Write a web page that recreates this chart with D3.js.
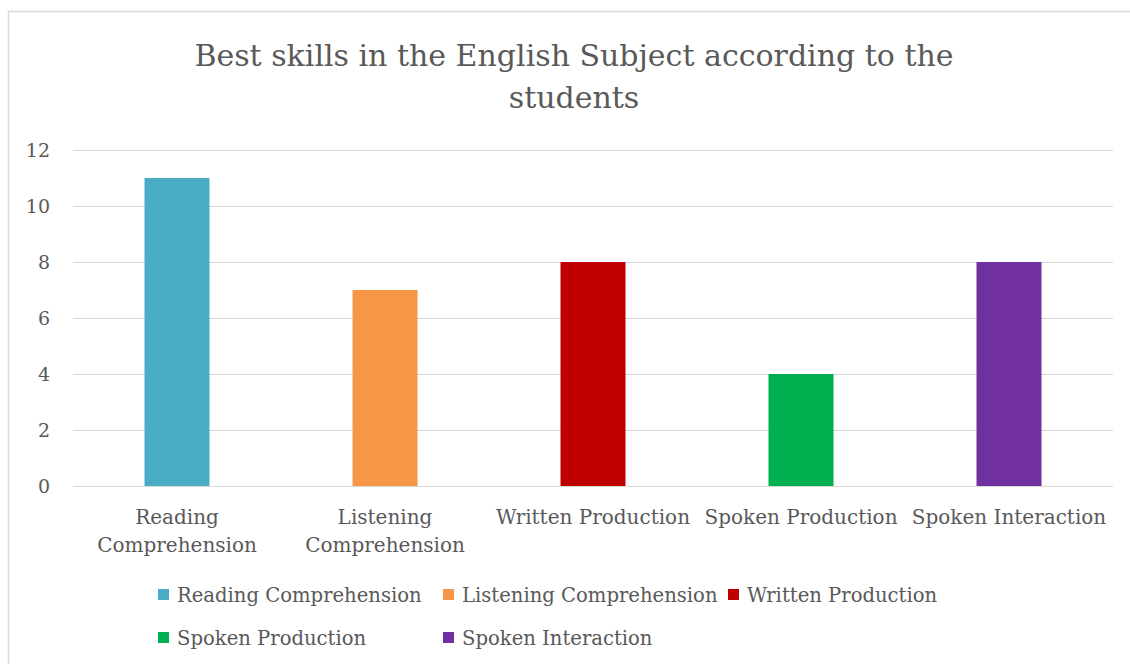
<!DOCTYPE html>
<html>
<head>
<meta charset="utf-8">
<script src="https://cdn.jsdelivr.net/npm/d3@7"></script>
<style>
  body { margin: 0; background: #fff; }
  svg text { font-family: "DejaVu Serif", serif; fill: #595959; }
</style>
</head>
<body>
<div id="chart"></div>
<script>
// data
const categories = ["Reading Comprehension", "Listening Comprehension", "Written Production", "Spoken Production", "Spoken Interaction"];
const values = [11, 7, 8, 4, 8];
const colors = ["#4BACC6", "#F79646", "#C00000", "#00B050", "#7030A0"];
const yTicks = [0, 2, 4, 6, 8, 10, 12];
const titleLines = ["Best skills in the English Subject according to the", "students"];

const width = 1130, height = 664;
const plot = {left: 73, right: 1113, top: 150, bottom: 486};

let svg = d3.select("#chart").append("svg")
    .attr("width", width)
    .attr("height", height);

svg.append("rect")
    .attr("width", width).attr("height", height)
    .attr("fill", "#fff");

// chart frame (runs off the right and bottom edge)
svg.append("rect")
    .attr("x", 8.5).attr("y", 11.5)
    .attr("width", 1140).attr("height", 670)
    .attr("fill", "none")
    .attr("stroke", "#d9d9d9")
    .attr("stroke-width", 1.5);

// title
svg.append("g").selectAll("text")
    .data(titleLines)
    .enter().append("text")
    .attr("x", 574)
    .attr("y", (d, i) => 66 + i * 42)
    .attr("text-anchor", "middle")
    .style("font-size", "30px")
    .text(d => d);

let yScale = d3.scaleLinear()
    .domain([0, 12])
    .range([plot.bottom, plot.top]);

let xScale = d3.scaleBand()
    .domain(categories)
    .range([plot.left, plot.right])
    .paddingInner(0.6875)
    .paddingOuter(0.34375);

// gridlines
svg.append("g").selectAll("line")
    .data(yTicks)
    .enter().append("line")
    .attr("x1", plot.left).attr("x2", plot.right)
    .attr("y1", d => Math.round(yScale(d)) + 0.5)
    .attr("y2", d => Math.round(yScale(d)) + 0.5)
    .attr("stroke", "#d9d9d9")
    .attr("stroke-width", 1.2);

// y labels
svg.append("g").selectAll("text")
    .data(yTicks)
    .enter().append("text")
    .attr("x", 50)
    .attr("y", d => yScale(d) + 7)
    .attr("text-anchor", "end")
    .style("font-size", "19px")
    .text(d => d);

// bars
svg.append("g").selectAll("rect")
    .data(values)
    .enter().append("rect")
    .attr("x", (d, i) => xScale(categories[i]))
    .attr("y", d => yScale(d))
    .attr("width", xScale.bandwidth())
    .attr("height", d => yScale(0) - yScale(d))
    .attr("fill", (d, i) => colors[i]);

// x labels, wrapped when wider than a band step
let step = xScale.step();
let xl = svg.append("g");
categories.forEach(function (c) {
    let cx = xScale(c) + xScale.bandwidth() / 2;
    let t = xl.append("text")
        .attr("x", cx).attr("y", 524)
        .attr("text-anchor", "middle")
        .style("font-size", "20px")
        .text(c);
    if (t.node().getComputedTextLength() > step) {
        t.text(null);
        c.split(" ").forEach(function (w, i) {
            t.append("tspan").attr("x", cx).attr("y", 524 + i * 28).text(w);
        });
    }
});

// legend
let lg = svg.append("g");
let perRow = 3, colW = 285, rowH = 43;
let legX = 158;
categories.forEach(function (c, i) {
    let col = i % perRow, row = Math.floor(i / perRow);
    let x = legX + col * colW, y = 602 + row * rowH;
    lg.append("rect")
        .attr("x", x).attr("y", y - 13)
        .attr("width", 11).attr("height", 11)
        .attr("fill", colors[i]);
    lg.append("text")
        .attr("x", x + 19).attr("y", y)
        .style("font-size", "19.6px")
        .text(c);
});
</script>
</body>
</html>
